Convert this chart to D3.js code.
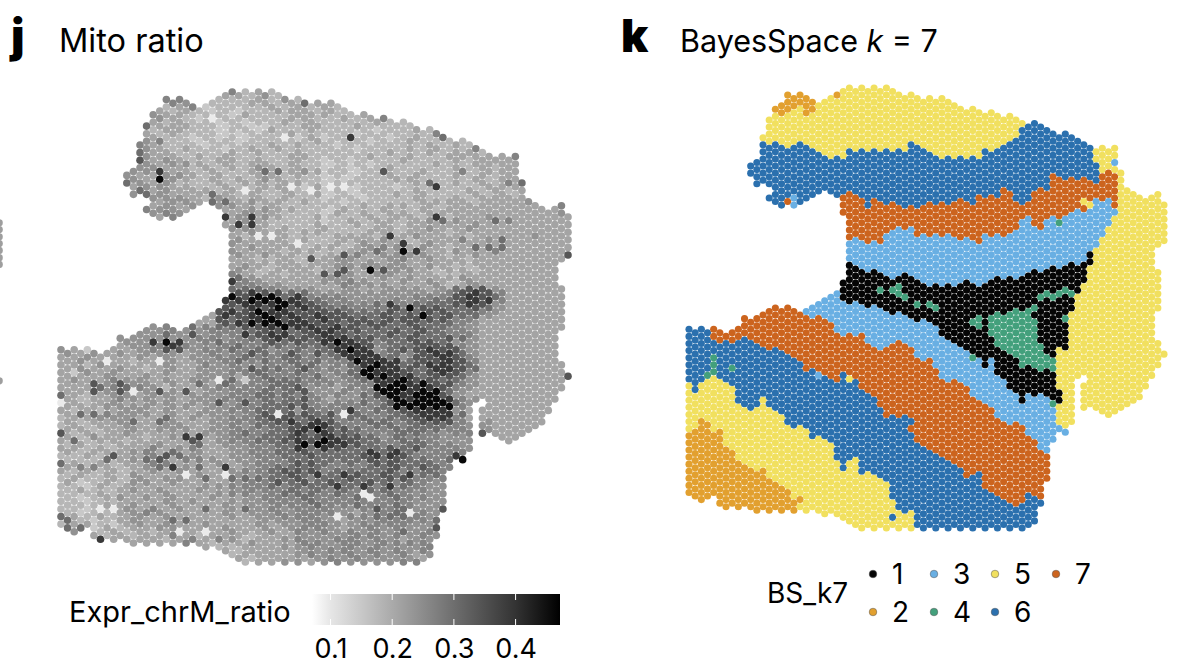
<!DOCTYPE html>
<html><head><meta charset="utf-8">
<script src="https://cdn.jsdelivr.net/npm/d3@7"></script>
<style>html,body{margin:0;padding:0;background:#fff}svg{display:block}text{font-family:Inter,"Noto Sans",sans-serif;fill:#000}</style>
</head><body><svg id="c" width="1180" height="666"></svg>
<script>
const clusterIds=[1,2,3,4,5,6,7];
const clusterNames=["1","2","3","4","5","6","7"];
const clusterColors=["#050505","#E2A02F","#69AFE3","#43A07C","#F1E05F","#2B70AE","#CC641E"];
const mitoTicks=[0.1,0.2,0.3,0.4];
const mitoDomain=[0.07,0.472];
const mitoStops=[0.07,0.1,0.2,0.3,0.4,0.472];
const mitoGreys=["#ffffff","#e6e6e6","#aaaaaa","#6e6e6e","#333333","#000000"];
const mitoLevels=[0.095,0.15,0.18,0.21,0.24,0.265,0.3,0.34,0.39,0.46];
// one string per grid column: start, label, next start, label ... end (half-row index, 0 = no tissue)
const clusterRuns=[
"67 6 84 5 97 2 114.5","69 6 86 5 96 2 116","68 6 83 5 94 2 117","69 6 80 4 82 5 95 2 117","67 7 71 6 75 4 81 5 98 2 116",
"69 7 72 6 83 5 96 2 118","70 7 71 6 84 5 102 2 119","69 7 72 6 79 4 80 6 85 5 103 2 119","67 7 71 6 89 5 105 2 119","65 7 71 6 90 5 106 2 119",
"21 6 25 0 66 7 72 6 91 5 107 2 119","21 6 28 0 64 7 73 6 90 5 108 2 119.5","13 5 15 6 27 0 64 7 73 6 88 5 107.5 2 119","9 5 16 6 28 0 30 6 32 0 62 7 74 6 90 5 110 2 119.5","5 2 7 5 16 6 33 0 62 7 74 6 91 5 112 2 119",
"5 2 8 5 16 6 34 0 62 7 75 6 93 5 112.5 2 119.5","1 2 7 5 17 6 31 7 33 0 62 7 76 6 94.5 5 113.5 2 119","3 2 6 5 16 6 30.5 3 34 0 62.5 7 77 6 96 5 115.5 2 119.5","2 2 5 5 16 6 33 0 64 7 78 6 95 5 115 2 117 5 119","3 2 8 5 16 6 31.5 0 62.5 3 64.5 7 79.5 6 96 5 120",
"3 2 7 5 17.5 6 31 0 61 3 65 7 80 6 99 5 120","5 5 18 6 30 0 60.5 3 65 7 80 3 82 6 99 5 120.5","3.5 5 19 6 30 0 59 3 65 7 81 6 98.5 5 121","3 5 19.5 6 30.5 0 58 3 66 7 82 6 100 5 120","1 2 3 5 20 6 31 0 57 3 69 7 83 6 105 5 122",
"1 5 20.5 6 30 7 36 0 54.5 1 59.5 3 70.5 7 81 6 107.5 5 122.5","0 5 17.5 6 29 7 43 3 49.5 1 61 3 70 7 81 5 83 6 105 5 124","1 5 19 6 30 7 43 3 50 1 61 3 69.5 7 83 6 105 5 124.5","0 5 17.5 6 31 7 43.5 3 51 1 60.5 3 70 7 85 6 108.5 5 125","1 5 18 6 34 7 44 3 52 1 62 3 71.5 7 86 6 108 5 124.5",
"0 5 18 6 32 7 43 3 51 1 61 3 74 7 88 6 109 5 125","1 5 19 6 33 7 44 3 52 1 56 4 58 1 62 3 74 7 91 6 110 5 124.5","0 5 18 6 33 7 42 3 53 1 63 3 74 7 92.5 6 110.5 5 125","1 5 19 6 33 7 41 3 54 1 56 4 58 1 64 3 73 7 92 6 117 5 120 6 122 5 123.5","2 5 18 6 33.5 7 40 3 53 1 55 4 60 1 64 3 72 7 92.5 6 119 5 125",
"2.5 5 18 6 33.5 7 41 3 52 1 58 4 60 1 65 3 71.5 7 93 6 120 5 123.5","2 5 16 6 34 7 40 3 53.5 1 65 3 73 7 93 6 95 7 97.5 6 118.5 5 125","3 5 16 6 34.5 7 41.5 3 54 1 60 4 62 1 65.5 3 76 7 99.5 6 124","3 5 17.5 6 33 7 40.5 3 55.5 1 64.5 3 77 7 101.5 6 125","3 5 18 6 32 7 42 3 55.5 1 60 4 62 1 65.5 3 76.5 7 102.5 6 124",
"3 5 19 6 32.5 7 41 3 56 1 61 4 63 1 68 3 79.5 7 104 6 125","3 5 20 6 31.5 7 42 3 57 1 70 3 82 7 104.5 6 124","4 5 19.5 6 32.5 7 41 3 56 1 71 3 83 7 105 6 125","5 5 20 6 31.5 7 42 3 56 1 72 3 82.5 7 107 6 124","6 5 19.5 6 31.5 7 43 3 56 1 73 3 83 7 107.5 6 125",
"7 5 20 6 33 7 43 3 54.5 1 75 3 85 7 110 6 124","6 5 19.5 6 33 7 44 3 54.5 1 65 4 67 1 75 4 77 3 86.5 7 108.5 6 125","7 5 19.5 6 31 7 44 3 56.5 1 64.5 4 67.5 1 75.5 3 88 7 109 6 124","8 5 17.5 6 30.5 7 41 3 54.5 1 64.5 4 66 1 78.5 3 90 7 112.5 6 125","7 5 18 6 30 7 42 3 53.5 1 64 4 70.5 1 77 3 91 7 114 6 124",
"7 5 17.5 6 30.5 7 42 3 54 1 63.5 4 72.5 1 80.5 3 93 7 115 6 125","8 5 15.5 6 29 7 42 3 54.5 1 63.5 4 73.5 1 83 3 94.5 7 116 6 124","8 5 15 6 30 7 41.5 3 53.5 1 63 4 75 1 85 3 94.5 7 117 6 125","8 5 14 6 32 7 40 3 54 1 63 4 77 1 86 3 93.5 7 118 6 124","10 5 12 6 32.5 7 37 3 53 1 63.5 4 78.5 1 89 3 95 7 117 6 125",
"11 6 33 7 36 3 52.5 1 63 4 77.5 1 86 3 97.5 7 114 6 124","10 6 29 7 39.5 3 52 1 61 4 63 1 65 4 79 1 87 3 98.5 7 115 6 123","10 6 28 7 40 3 51.5 1 59 4 60.5 1 72.5 4 79.5 1 85.5 3 101.5 7 116 6 118","11 6 29 7 38 3 51 1 58 4 59.5 1 74.5 4 79.5 1 87 3 102.5 7 110.5","12 6 24 7 36 3 50.5 1 58 4 59.5 1 76 4 79.5 1 88 4 90 3 99.5",
"13 6 25 7 37 4 39 3 50.5 1 58 4 59 1 74 5 85 1 88.5 5 95 3 97","12 6 25.5 7 35.5 3 49.5 1 57 4 59 1 64 4 66 1 74 5 95.5 3 98","13 6 25 7 36 3 49.5 1 57 4 59 1 62.5 5 94.5","14 6 26 7 34.5 3 50 1 57.5 5 81.5","15 6 25 7 31.5 5 33 7 35 3 48.5 1 55.5 5 81 0 84 5 91",
"17 6 26 7 31.5 5 34 3 47 1 50 5 89.5","18 5 21.5 6 27 7 31.5 3 45.5 5 91","17 5 23.5 7 31.5 3 43 5 92","16.5 5 23 7 32 3 40 5 93","16.5 5 20 3 22 5 24 7 33.5 3 36 5 92",
"23.5 5 91","28 5 90","29 5 89","30 5 88","31 5 85","30.5 5 82","30 5 46 0 51 5 63 0 71 5 79","32.5 5 44.5 0 74 5 76"];
// one string per half-row; each character is the grey level of one spot, read left to right
const mitoRows=[
".......... ...4232322 2222...... .........",".......... ...3242322 3232...... .........",".......545 2122232423 3243...... .........","......4354 3222332323 3245223... .........","......5323 2122223232 3232324... .........",
"......3323 2121223332 3232323232 .........","......4433 2221322233 3223223233 3........","......3432 1122222332 2323223232 33.......","......3323 2212122323 2222322323 233......","......3333 2212112233 2232222323 233......",
".....33233 2212213223 2222122322 2333.....",".....33232 2211222322 2212222222 3233.....",".....33322 1212122313 1222212322 2333.....",".....34322 1221222223 2221223222 2333.....","....533322 2122223232 2122222232 3233.....",
"....534323 2212323222 2212223232 2334.....","....633332 2223232232 2222232232 3323.....","....534332 3232222332 2223223223 3333.....","....743343 2233232232 1212223222 3233.....","....444344 3232332322 1221222232 2333.....",
"...4344433 2323243232 1212232222 32323....","...4344433 2322324343 2212122322 32333....","...3443344 3232233232 1212232322 32323....","...4343343 2323243222 1122233222 23233....","...6344342 2232332332 1222222322 32325....",
"...3434433 2232233313 0212212222 22333....","....643343 3323232323 1212222322 232323...","....644433 3232322323 1212232322 2323233..","....444444 3243232322 1221222322 3233334..","....354344 3463433232 2122222333 32333433.",
"......4343 4544323222 2223233232 333333335","......5443 4333443322 1322322323 333333334","......4454 3333433222 1323233233 333333334",".........5 3334843223 2223233232 334333333",".......... ...3432222 1232332343 433533333",
".......... ...4832223 2232323333 343333333",".......... ...4432322 3222332343 343333333",".......... ...3433233 2223323332 333333333",".......... ...3230322 2333243433 323333433",".......... ...4333232 2333432333 534433333",
".......... ...4333332 2324334243 333333333",".......... ...3433323 3234543432 353633333",".......... ...4333233 2234635433 433533333",".......... ...4343322 3353444432 343333334",".......... ...3322323 3443345343 323333333",
".......... ...3333323 3434343333 333333333",".......... ...3432333 3444444343 223333333",".......... ...4323332 3533744323 323333333",".......... ...5323233 3743443332 233333333",".......... ...6433333 4433434333 433333333",
".......... ...8543333 4454334343 243333333",".......... ...5544333 3544433342 343333333",".......... ...6665444 3343344434 677433333",".......... ...7677664 4444444445 787533333",".......... ...8797675 5544444555 787633333",
".......... ..78998876 5544454566 788533333",".......... ..77888987 6555655666 787433333",".......... ..76879787 6655576776 676433333",".......... ..78798877 7766676677 665433333",".......... ..87898878 7766767967 664333333",
".......... ..76789787 8777677777 553333333",".......... ..78899887 7677767666 543333333","......4456 5566778887 7876766766 543333333","......4454 4555677676 7776676765 543333333",".....44464 4455878868 7766676766 553333333",
"....444444 5545678777 6777667667 643333333","....344855 4565557676 7667566776 443333333","....344545 4456566566 6667566777 543333333","4323334534 4556564565 6656467787 643333333","4343434443 4545465757 6665565778 643333333",
"3343334343 4455655665 5668864778 753333333","3433323043 4456565656 5567886778 753333333","3324333343 3545445566 4567886788 763333333","3433432343 4445656575 5467887688 763333333","3143433343 3445565565 4568887678 753333333",
"3334334333 4443565556 4567898677 643333333","3433544343 4456156665 5456889776 643333333","3324744343 4364556655 5455888977 543333333","3334565423 3455556674 4355788887 543333333","3334754047 3445565674 4545678996 433333333",
"6323443443 4445566655 4546778997 433333333","3233544343 4455565675 3445678998 543333333","0323433443 4454756665 4556579899 643333333","3334444344 3445566775 5555678999 533333333","3232344343 3445566646 5555667888 433333333",
"3635444343 4444576766 7065567888 643333333","2334443363 4345567767 6566566788 533333333","3233433643 3445567868 7556656777 544333333","2323343344 3345466678 8655665666 544333333","3323343444 3445556787 7765566665 544333333",
"7232343333 3445656686 8665556654 554333344","3243332344 8345566777 8776465554 454333333","3323323333 7345566787 9876656654 444333333","2322333433 6344556697 9876556655 434333333","3323233534 5334455696 8766656755 544333...",
"3233345363 4334556676 6667686555 5443.....","2232233576 4334455667 6667887555 5583.....","2223346735 5434455666 6667676656 5943.....","6323233553 3343455577 6565776665 5473.....","3453234354 6383456666 5556676765 5444.....",
"3232323434 3334556777 5666675565 54.......","2323243333 4304456768 6676768664 4........","2322324344 3335666675 6676677555 5........","3123244343 3334556676 7667656544 .........","2213233333 3445556566 6867586544 .........",
"2322343433 4334555656 5656655544 .........","2223233343 3345545666 5650565444 .........","2123434343 3433455565 5565565544 .........","2212233343 4334445556 5555555444 .........","2223343343 3343445556 5565565444 .........",
"2213043534 3334645455 5445656447 .........","2122345433 3343445455 5434565544 .........","2323234343 3334344555 4455656544 .........","6212343346 3333344455 4344555546 .........","2332134343 3433343445 5445555446 .........",
"3613233443 3343343455 4345454447 .........","3432323232 3034334354 5454546454 .........",".9.2323333 2333233344 4455454543 .........","...8.33323 5354233454 4554543444 .........",".......... 3233433355 4554555553 .........",
".........3 3322333445 4454544454 .........",".......... ...2333344 5545454544 .........",".......... ...2333345 4454545344 .........",".......... ...3233334 5454444.44 .........",".......... ...3233443 4544445545 ........."];
// spots that stand out from their neighbours: column, half-row, grey level
const mitoSpots=[[26,0,5],[16,2,5],[18,2,5],[20,4,5],[13,9,6],[15,13,5],[12,14,5],[12,16,6],[12,18,7],[15,21,8],[15,23,9],[10,24,6],[12,26,6],[13,27,6],[13,31,5],[17,33,5],[23,27,6],[23,29,6],[25,33,8],[27,35,8],[31,21,6],[33,21,6],[37,3,6],[23,7,0],[34,12,0],[30,38,0],[36,40,0],[28,26,0],[35,25,0],[38,26,0],[26,50,8],[26,54,9],[25,55,8],[29,53,8],[32,54,9],[33,55,9],[36,54,8],
[44,12,8],[49,7,5],[57,11,5],[58,12,6],[63,15,5],[69,17,5],[70,24,6],[49,21,7],[57,25,8],[56,24,6],[61,21,5],[43,25,0],[50,38,8],[52,40,8],[52,42,9],[54,42,8],[57,33,8],[58,34,6],[66,34,6],[68,34,5],[63,41,6],[65,41,6],[67,39,6],[77,43,7],[76,30,5],[43,43,7],[43,47,7],[47,47,9],[38,44,7],[40,48,7],[53,57,9],[55,59,9],[50,56,8],
[16,66,9],[17,67,8],[18,66,8],[16,68,7],[18,68,7],[20,62,6],[20,64,7],[9,65,4],[34,62,9],[29,61,9],[33,61,9],[0,68,4],[4,68,1],[7,71,0],[2,74,1],[5,77,7],[5,79,7],[6,78,6],[11,79,0],[15,79,7],[0,80,6],[0,82,0],[3,85,6],[5,85,6],[11,87,6],[0,90,7],[19,91,8],[2,92,6],[7,97,6],[8,96,7],[0,98,6],[15,99,6],[17,99,8],[3,99,5],[19,101,0],[22,102,6],[26,102,6],[33,103,7],[0,112,6],[1,115,6],[3,117,9],[6,118,8],[17,113,6],[18,116,0],[22,110,6],[17,117,5],[19,119,5],[6,110,0],[29,73,7],[29,69,7],[31,73,6],[24,76,0],[21,77,6],[24,82,7],[33,85,0],[39,87,8],[39,89,9],[39,93,9],[37,85,7],[36,92,8],[36,94,8],[37,91,7],
[46,70,8],[47,71,8],[47,75,9],[48,76,8],[51,79,9],[52,78,9],[52,82,9],[54,82,9],[56,82,9],[57,81,9],[51,83,9],[53,83,9],[57,69,8],[60,68,7],[61,97,9],[60,96,8],[60,98,7],[64,90,7],[77,75,7],[40,92,9],[41,93,8],[44,84,8],[40,88,8],[47,95,8],[50,96,8],[50,94,7],[43,101,8],[46,104,8],[44,104,6],[48,110,7],[48,112,6],[50,112,6],[58,110,7],[57,115,7],[57,113,6],[42,112,0],[47,107,0],[53,111,0],
[38,60,7],[38,62,8],[38,64,7],[39,61,7],[39,63,8],[39,65,7],[40,62,7],[40,64,8],[40,66,8],[41,63,8],[41,65,8],[41,67,7],[42,64,7],[42,66,9],[42,68,8],[43,65,8],[43,67,8],[43,69,8],[44,66,8],[44,68,9],[44,70,8],[45,67,8],[45,69,8],[45,71,9],[46,68,8],[46,72,8],[46,74,9],[47,69,8],[47,73,9],[48,70,8],[48,72,9],[48,74,8],[48,78,9],[49,71,8],[49,73,8],[49,75,9],[49,77,8],[49,79,9],[50,74,8],[50,76,8],[50,78,9],[50,80,9],[51,75,8],[51,77,9],[51,81,9]];
// spots of the neighbouring panel cut by the left edge
const edgeColumn=-9.4;
const edgeRows=[34.5,36.3,38.2,40,41.8,43.7,45.5,76.2];

const svg=d3.select("#c");
const xJ=d3.scaleLinear().domain([0,77]).range([61,568]);
const yJ=d3.scaleLinear().domain([0,124]).range([92,562]);
const xK=d3.scaleLinear().domain([0,77]).range([689,1164]);
const yK=d3.scaleLinear().domain([0,124]).range([88,528]);
const grey=d3.scaleLinear().domain(mitoStops).range(mitoGreys);
const clusterColor=d3.scaleOrdinal().domain(clusterIds).range(clusterColors);

const overrides=new Map(mitoSpots.map(d=>[d[0]+","+d[1],d[2]]));
const spots=[];
clusterRuns.forEach((s,c)=>{
  const t=s.split(" ").map(Number);
  for(let i=0;i+2<t.length;i+=2){
    if(!t[i+1])continue;
    for(let r=Math.ceil(t[i]);r<t[i+2];r++){
      if((r+c)%2)continue;
      const row=(mitoRows[r]||"").replace(/ /g,"");
      const ch=row[Math.floor(c/2)];
      let lvl=(ch===undefined||ch===".")?3:+ch;
      const k=c+","+r;
      if(overrides.has(k))lvl=overrides.get(k);
      spots.push({c,r,label:t[i+1],value:mitoLevels[lvl]});
    }
  }
});

svg.append("g").selectAll("circle").data(edgeRows).join("circle")
  .attr("cx",xJ(edgeColumn)).attr("cy",d=>yJ(d)).attr("r",3.7).attr("fill",grey(0.22));
svg.append("g").selectAll("circle").data(spots).join("circle")
  .attr("cx",d=>xJ(d.c)).attr("cy",d=>yJ(d.r)).attr("r",3.8).attr("fill",d=>grey(d.value));
svg.append("g").selectAll("circle").data(spots).join("circle")
  .attr("cx",d=>xK(d.c)).attr("cy",d=>yK(d.r)).attr("r",3.55).attr("fill",d=>clusterColor(d.label));

function txt(x,y,s,size,weight){return svg.append("text").attr("x",x).attr("y",y).attr("font-size",size).attr("font-weight",weight||400).text(s);}
txt(11,52,"j",46,900);
txt(621,52,"k",45,900);
txt(59,52,"Mito ratio",32.5);
const t=txt(680,52,"BayesSpace ",30.5);
t.append("tspan").attr("font-style","italic").text("k");
t.append("tspan").text(" = 7");

// colour bar
const bx=d3.scaleLinear().domain(mitoDomain).range([312,560]);
const grad=svg.append("defs").append("linearGradient").attr("id","g");
grad.selectAll("stop").data(mitoStops).join("stop")
  .attr("offset",d=>(d-mitoDomain[0])/(mitoDomain[1]-mitoDomain[0]))
  .attr("stop-color",d=>grey(d));
svg.append("rect").attr("x",bx.range()[0]).attr("y",594).attr("width",bx.range()[1]-bx.range()[0]).attr("height",31).attr("fill","url(#g)");
const gt=svg.append("g");
mitoTicks.forEach(v=>{
  gt.append("line").attr("x1",bx(v)).attr("x2",bx(v)).attr("y1",594).attr("y2",600).attr("stroke","#fff");
  gt.append("line").attr("x1",bx(v)).attr("x2",bx(v)).attr("y1",619).attr("y2",625).attr("stroke","#fff");
});
const ax=svg.append("g").attr("transform","translate(0,625)").call(d3.axisBottom(bx).tickValues(mitoTicks).tickSize(0).tickPadding(14).tickFormat(d3.format(".1f")));
ax.select(".domain").remove();
ax.selectAll("text").attr("font-size",27).attr("font-family","Inter").attr("fill","#000");
txt(69,622,"Expr_chrM_ratio",29);

// cluster legend
txt(767,603,"BS_k7",28);
const legX=d3.scalePoint().domain([0,1,2,3]).range([873,1056]);
const legY=d3.scalePoint().domain([0,1]).range([574,612]);
const leg=svg.append("g").selectAll("g").data(clusterIds).join("g")
  .attr("transform",(d,i)=>`translate(${legX(Math.floor(i/2))},${legY(i%2)})`);
leg.append("circle").attr("r",3.8).attr("fill",d=>clusterColor(d)).attr("stroke","#555").attr("stroke-width",.5);
leg.append("text").attr("x",19).attr("y",10).attr("font-size",28).text((d,i)=>clusterNames[i]);
</script></body></html>
